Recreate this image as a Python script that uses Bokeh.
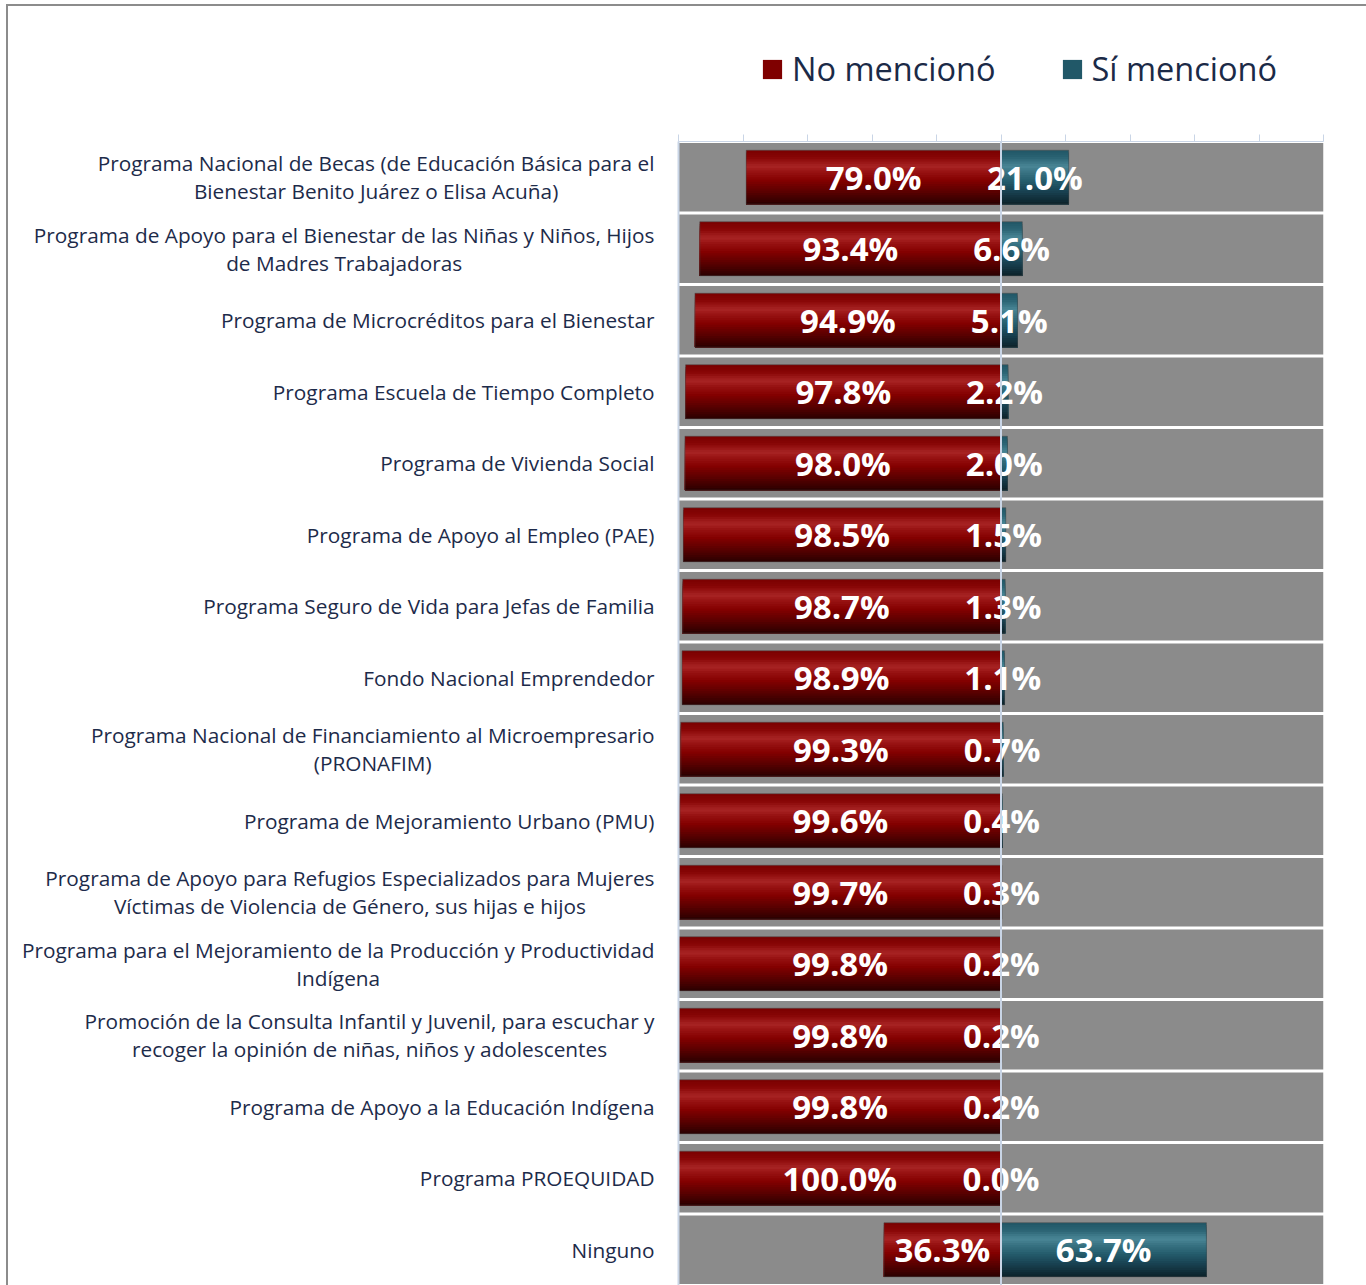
import numpy as np
from bokeh.plotting import figure
from bokeh.layouts import row, column
from bokeh.models import (ColumnDataSource, FactorRange, Range1d, FixedTicker, Span,
                          Legend, LegendItem)
from bokeh.transform import dodge
from bokeh.core.properties import value
from bokeh.embed import file_html
from bokeh.resources import INLINE

# ---------------- data ----------------
programas = [
    "Programa Nacional de Becas (de Educación Básica para el Bienestar Benito Juárez o Elisa Acuña)",
    "Programa de Apoyo para el Bienestar de las Niñas y Niños, Hijos de Madres Trabajadoras",
    "Programa de Microcréditos para el Bienestar",
    "Programa Escuela de Tiempo Completo",
    "Programa de Vivienda Social",
    "Programa de Apoyo al Empleo (PAE)",
    "Programa Seguro de Vida para Jefas de Familia",
    "Fondo Nacional Emprendedor",
    "Programa Nacional de Financiamiento al Microempresario (PRONAFIM)",
    "Programa de Mejoramiento Urbano (PMU)",
    "Programa de Apoyo para Refugios Especializados para Mujeres Víctimas de Violencia de Género, sus hijas e hijos",
    "Programa para el Mejoramiento de la Producción y Productividad Indígena",
    "Promoción de la Consulta Infantil y Juvenil, para escuchar y recoger la opinión de niñas, niños y adolescentes",
    "Programa de Apoyo a la Educación Indígena",
    "Programa PROEQUIDAD",
    "Ninguno",
]
etiquetas = [
    "Programa Nacional de Becas (de Educación Básica para el\nBienestar Benito Juárez o Elisa Acuña)",
    "Programa de Apoyo para el Bienestar de las Niñas y Niños, Hijos\nde Madres Trabajadoras",
    "Programa de Microcréditos para el Bienestar",
    "Programa Escuela de Tiempo Completo",
    "Programa de Vivienda Social",
    "Programa de Apoyo al Empleo (PAE)",
    "Programa Seguro de Vida para Jefas de Familia",
    "Fondo Nacional Emprendedor",
    "Programa Nacional de Financiamiento al Microempresario\n(PRONAFIM)",
    "Programa de Mejoramiento Urbano (PMU)",
    "Programa de Apoyo para Refugios Especializados para Mujeres\nVíctimas de Violencia de Género, sus hijas e hijos",
    "Programa para el Mejoramiento de la Producción y Productividad\nIndígena",
    "Promoción de la Consulta Infantil y Juvenil, para escuchar y\nrecoger la opinión de niñas, niños y adolescentes",
    "Programa de Apoyo a la Educación Indígena",
    "Programa PROEQUIDAD",
    "Ninguno",
]
no_menciono = [79.0, 93.4, 94.9, 97.8, 98.0, 98.5, 98.7, 98.9, 99.3, 99.6, 99.7, 99.8, 99.8, 99.8, 100.0, 36.3]
si_menciono = [21.0, 6.6, 5.1, 2.2, 2.0, 1.5, 1.3, 1.1, 0.7, 0.4, 0.3, 0.2, 0.2, 0.2, 0.0, 63.7]
ticks = [-100, -80, -60, -40, -20, 0, 20, 40, 60, 80, 100]
series_names = ["No mencionó", "Sí mencionó"]
series_colors = ["#7f0000", "#215868"]

# ---------------- sources ----------------
no_arr = np.array(no_menciono)
si_arr = np.array(si_menciono)
src = ColumnDataSource(dict(
    cat=programas,
    label=etiquetas,
    no_left=-no_arr,
    si_right=si_arr,
    no_mid=-no_arr / 2.0,
    si_mid=si_arr / 2.0,
    no_txt=[f"{v:.1f}%" for v in no_menciono],
    si_txt=[f"{v:.1f}%" for v in si_menciono],
    full_left=[ticks[0]] * len(programas),
    full_right=[ticks[-1]] * len(programas),
    lab_x=[1.0] * len(programas),
))

yr = FactorRange(factors=list(reversed(programas)))
HTOP = 100
TOP = 35
H = 1279 - HTOP

# ---------------- legend strip ----------------
pt = figure(width=1358, height=HTOP, x_range=Range1d(0, 1), y_range=Range1d(0, 1),
            output_backend="svg", toolbar_location=None,
            min_border=0, x_axis_type=None, y_axis_type=None)
pt.outline_line_color = None
pt.grid.visible = False
pt.border_fill_color = "white"
# legend proxies: one NaN point each, so nothing is drawn but the legend swatch
proxy = ColumnDataSource(dict(x=[np.nan], y=[np.nan]))
leg_rs = [pt.rect(x="x", y="y", width=1, height=1, source=proxy,
                  fill_color=c, line_color=None) for c in series_colors]
legend = Legend(items=[LegendItem(label=n, renderers=[r]) for n, r in zip(series_names, leg_rs)],
                orientation="horizontal", location=(752, 15),
                glyph_width=24, glyph_height=24, label_standoff=8, spacing=64,
                label_text_font="Open Sans", label_text_font_size="32.5px",
                label_text_color="#1b2a47", border_line_color=None,
                background_fill_alpha=0, padding=0, margin=0)
pt.add_layout(legend, "center")

# ---------------- label panel ----------------
pl = figure(width=647, height=H, x_range=Range1d(0, 1), y_range=yr,
            output_backend="svg", toolbar_location=None,
            min_border_left=0, min_border_right=0, min_border_top=TOP, min_border_bottom=0,
            x_axis_type=None, y_axis_type=None)
pl.outline_line_color = None
pl.grid.visible = False
pl.background_fill_color = None
pl.border_fill_color = "white"
pl.text(x="lab_x", y="cat", text="label", source=src, anchor="center_right",
        text_align="center", text_baseline="middle", x_offset=-1,
        text_font=value("Open Sans"), text_font_size="20.8px", text_color="#1d2b4a",
        text_line_height=1.0)

# ---------------- main chart ----------------
p = figure(width=711, height=H,
           x_range=Range1d(ticks[0], ticks[-1]), y_range=yr,
           x_axis_location="above",
           output_backend="svg", toolbar_location=None,
           min_border_left=23, min_border_right=43,
           min_border_top=TOP, min_border_bottom=0)
p.outline_line_color = None
p.background_fill_color = "white"
p.border_fill_color = "white"
p.xgrid.visible = False
p.ygrid.visible = False

p.hbar(y="cat", left="full_left", right="full_right", height=0.958, source=src,
       fill_color="#8b8b8b", line_color=None)

def ramp(stops, n):
    pos = np.array([s[0] for s in stops])
    cols = np.array([[int(s[1][i:i + 2], 16) for i in (1, 3, 5)] for s in stops], dtype=float)
    out = []
    for k in range(n):
        t = (k + 0.5) / n
        rgb = [np.interp(t, pos, cols[:, j]) for j in range(3)]
        out.append("#%02x%02x%02x" % tuple(int(round(c)) for c in rgb))
    return out

red_stops = [(0.0, "#7a0000"), (0.14, "#880606"), (0.30, "#a82424"), (0.40, "#971212"),
             (0.55, "#850000"), (0.75, "#5e0000"), (1.0, "#2a0000")]
teal_stops = [(0.0, "#205666"), (0.14, "#2b6474"), (0.30, "#4a8696"), (0.40, "#3a7484"),
              (0.55, "#276070"), (0.75, "#194353"), (1.0, "#0c222a")]

bar_h = 0.755
n_strips = 24
sh = bar_h / n_strips
red_cols = ramp(red_stops, n_strips)
teal_cols = ramp(teal_stops, n_strips)
for k in range(n_strips):
    hk = bar_h - k * sh
    off = -bar_h / 2 + hk / 2
    p.hbar(y=dodge("cat", off, range=yr), left="no_left", right=0,
           height=hk, source=src, fill_color=red_cols[k], line_color=None)
    p.hbar(y=dodge("cat", off, range=yr), left=0, right="si_right",
           height=hk, source=src, fill_color=teal_cols[k], line_color=None)

p.hbar(y="cat", left="no_left", right=0, height=bar_h, source=src,
       fill_color=None, line_color="#4a4a4a", line_alpha=0.5, line_width=1)
p.hbar(y="cat", left=0, right="si_right", height=bar_h, source=src,
       fill_color=None, line_color="#4a4a4a", line_alpha=0.5, line_width=1)

p.add_layout(Span(location=0, dimension="height", line_color="#c9d5e6", line_width=2))

for xcol, tcol in (("no_mid", "no_txt"), ("si_mid", "si_txt")):
    p.text(x=xcol, y="cat", text=tcol, source=src, text_align="center",
           text_baseline="middle", text_color="white", text_font=value("Open Sans"),
           text_font_style="bold", text_font_size="33px")

xa = p.xaxis[0]
xa.ticker = FixedTicker(ticks=ticks)
xa.axis_line_color = "#c9d5e6"
xa.major_tick_line_color = "#c9d5e6"
xa.major_tick_in = 0
xa.major_tick_out = 7
xa.minor_tick_line_color = None
xa.major_label_text_font_size = "1px"
xa.major_label_text_color = None
xa.major_label_standoff = 0

ya = p.yaxis[0]
ya.axis_line_color = "#c9d5e6"
ya.axis_line_width = 2
ya.major_tick_line_color = None
ya.minor_tick_line_color = None
ya.major_label_standoff = 0
ya.major_label_text_font_size = "1px"
ya.major_label_text_color = None

layout = column(pt, row(pl, p, spacing=0), spacing=0,
                styles={"border-left": "2px solid #8c8c8c", "border-top": "2px solid #8c8c8c",
                        "margin-left": "6px", "margin-top": "4px"})
open("out.html", "w").write(file_html(layout, INLINE))
